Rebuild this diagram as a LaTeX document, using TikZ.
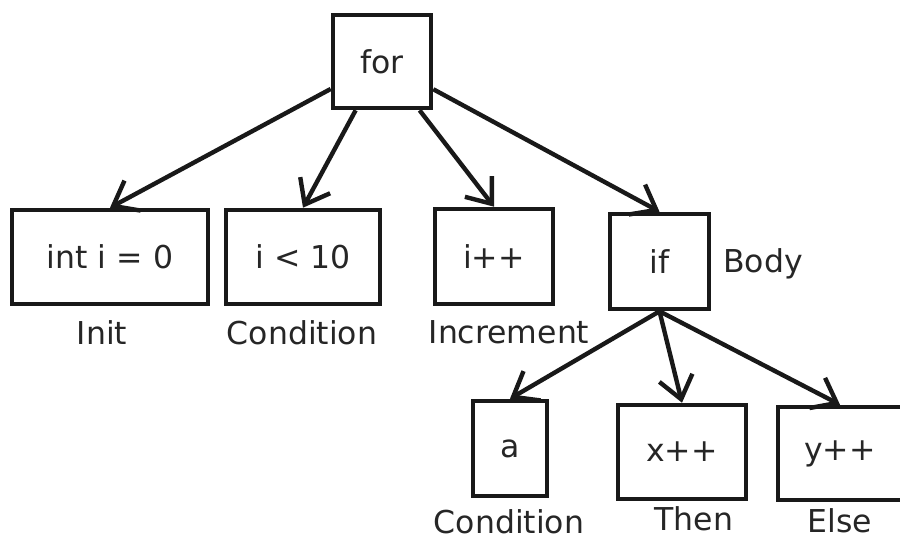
\documentclass[tikz,border=0pt]{standalone}
\usepackage{fontspec}
\setmainfont{DejaVu Sans}
\usetikzlibrary{arrows.meta}
\begin{document}
\begin{tikzpicture}[x=1pt,y=-1pt,
  box/.style={draw=black!90, line width=4.6pt, rectangle, inner sep=0pt,
    font=\fontsize{31.5}{36}\selectfont, text=black!85},
  lbl/.style={anchor=base, inner sep=0pt, font=\fontsize{31.5}{36}\selectfont, text=black!85},
  edge/.style={draw=black!90, line width=4.4pt, -{Straight Barb[length=22pt,width=34pt,line width=4.4pt]}}]
\useasboundingbox (0,0) rectangle (900,539);
\clip (0,0) rectangle (900,539);
\fill[white] (0,0) rectangle (900,539);
% boxes
\node[box, minimum width=98pt, minimum height=93pt] (for) at (382,61.5) {for};
\node[box, minimum width=196pt, minimum height=94pt] (init) at (110,257) {int i = 0};
\node[box, minimum width=154pt, minimum height=94pt] (cond) at (303,257) {i < 10};
\node[box, minimum width=118pt, minimum height=95pt] (inc) at (494,256.5) {i++};
\node[box, minimum width=99pt, minimum height=95pt] (if) at (659.5,261.5) {if};
\node[box, minimum width=74pt, minimum height=95pt] (a) at (510,448.5) {a};
\node[box, minimum width=128pt, minimum height=94pt] (then) at (682,452) {x++};
\node[box, minimum width=124pt, minimum height=93pt] (else) at (840,453.5) {y++};
% labels
\node[lbl] (linit) at (102,344) {Init};
\node[lbl] (lcond) at (302,344) {Condition};
\node[lbl] (linc) at (509,343) {Increment};
\node[lbl, anchor=base west] (lbody) at (723,272) {Body};
\node[lbl] (lacond) at (509,533) {Condition};
\node[lbl] (lthen) at (694,530) {Then};
\node[lbl] (lelse) at (840,532) {Else};
% connectors
\draw[edge] (for) -- (init.north);
\draw[edge] (for) -- (cond.north);
\draw[edge] (for) -- (inc.north);
\draw[edge] (for) -- (if.north);
\draw[edge] (if.south) -- (a.north);
\draw[edge] (if.south) -- (then.north);
\draw[edge] (if.south) -- (else.north);
\end{tikzpicture}
\end{document}
